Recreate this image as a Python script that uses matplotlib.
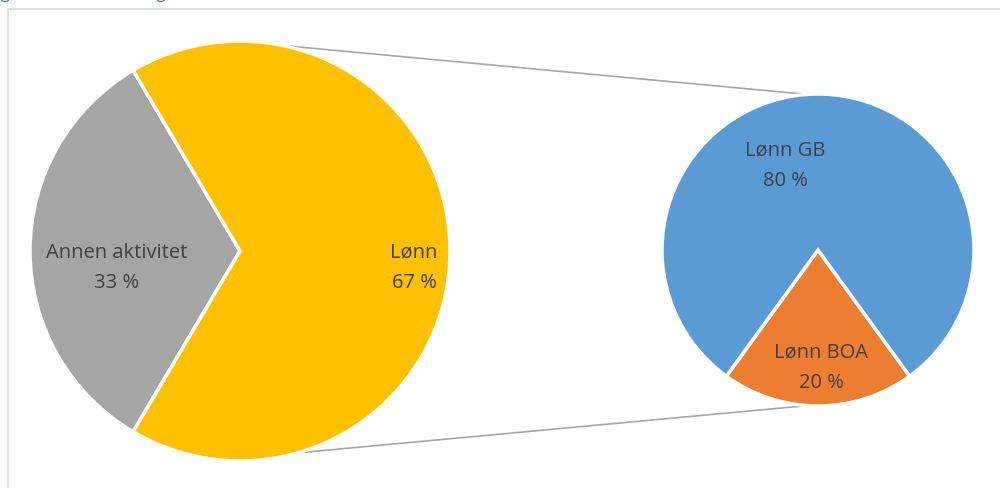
import numpy as np
import matplotlib.pyplot as plt
from matplotlib.patches import Rectangle

plt.rcParams["font.family"] = ["Open Sans", "DejaVu Sans"]

# Main pie
main_labels = ["Annen aktivitet", "Lønn"]
main_values = [33, 67]
main_colors = ["#A5A5A5", "#FFC000"]

# Secondary pie (split of "Lønn")
sub_labels = ["Lønn BOA", "Lønn GB"]
sub_values = [20, 80]
sub_colors = ["#ED7D31", "#5B9BD5"]

W, H = 1000, 489
fig = plt.figure(figsize=(W / 100, H / 100), dpi=100)
ax = fig.add_axes([0, 0, 1, 1])

# pixel-like coordinate system, y up
c1, r1 = (240, 489 - 252), 210
c2, r2 = (818, 489 - 251), 156

ax.pie(main_values, colors=main_colors, center=c1, radius=r1,
       startangle=180 - 360 * main_values[0] / 200, counterclock=True,
       wedgeprops=dict(edgecolor="white", linewidth=2.5))
ax.pie(sub_values, colors=sub_colors, center=c2, radius=r2,
       startangle=270 - 360 * sub_values[0] / 200, counterclock=True,
       wedgeprops=dict(edgecolor="white", linewidth=2.5))

ax.set_xlim(0, W)
ax.set_ylim(0, H)
ax.set_aspect("equal")
ax.axis("off")

# connector lines between pies
def on_circle(c, r, deg):
    a = np.deg2rad(deg)
    return c[0] + r * np.cos(a), c[1] + r * np.sin(a)

for a1, a2 in [(78, 94), (-74, -94)]:
    p1 = on_circle(c1, r1, a1)
    p2 = on_circle(c2, r2, a2)
    ax.plot([p1[0], p2[0]], [p1[1], p2[1]], color="#A6A6A6", linewidth=1.2, zorder=0)

# data labels
txt = dict(ha="center", va="center", fontsize=14.5, color="#404040", linespacing=1.7)
ax.text(c1[0] - 123, c1[1] - 16, f"{main_labels[0]}\n{main_values[0]} %", **txt)
ax.text(c1[0] + 174, c1[1] - 16, f"{main_labels[1]}\n{main_values[1]} %", **txt)
ax.text(c2[0] - 33, c2[1] + 85, f"{sub_labels[1]}\n{sub_values[1]} %", **txt)
ax.text(c2[0] + 3, c2[1] - 117, f"{sub_labels[0]}\n{sub_values[0]} %", **txt)

# chart frame
fig.patches.append(Rectangle((8 / W, -0.1), 1.2, 1 - 10 / H + 0.1,
                             transform=fig.transFigure, fill=False,
                             edgecolor="#D9D9D9", linewidth=1.2))

# clipped caption above the frame
fig.text(-0.012, 1.0 + 2 / H, "Figur 1: Lønnsfordeling", color="#2E75B6",
         fontsize=12, va="baseline", ha="left")

fig.savefig("out.png", dpi=100)
